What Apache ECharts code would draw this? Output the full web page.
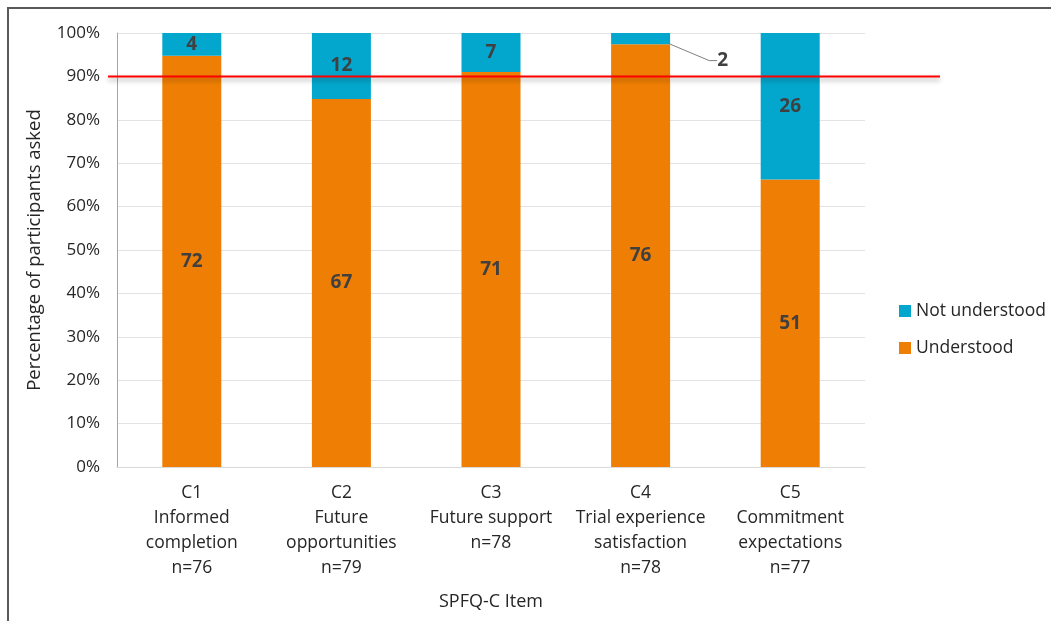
<!DOCTYPE html>
<html>
<head>
<meta charset="utf-8">
<title>SPFQ-C item comprehension</title>
<script src="https://cdn.jsdelivr.net/npm/echarts@6/dist/echarts.min.js"></script>
<style>
  html, body { margin: 0; padding: 0; background: #ffffff; }
  #chart { width: 1051px; height: 621px; }
</style>
</head>
<body>
<div id="chart"></div>
<script>
// Items asked and participant counts per response
const categories = [
  'C1\nInformed\ncompletion\nn=76',
  'C2\nFuture\nopportunities\nn=79',
  'C3\nFuture support\nn=78',
  'C4\nTrial experience\nsatisfaction\nn=78',
  'C5\nCommitment\nexpectations\nn=77'
];
const understood = [72, 67, 71, 76, 51];
const notUnderstood = [4, 12, 7, 2, 26];
const yTickLabels = ['0%', '10%', '20%', '30%', '40%', '50%', '60%', '70%', '80%', '90%', '100%'];
const threshold = 90;

const totals = understood.map((v, i) => v + notUnderstood[i]);
const pct = (arr) => arr.map((v, i) => v / totals[i] * 100);

const FONT = '"Open Sans", Lato, sans-serif';

const labelStyle = {
  show: true,
  position: 'inside',
  color: '#404040',
  fontFamily: FONT,
  fontWeight: 'bold',
  fontSize: 19
};

const chart = echarts.init(document.getElementById('chart'));
chart.setOption({
  animation: false,
  textStyle: { fontFamily: FONT },
  grid: { left: 117, top: 33, right: 186, bottom: 154 },
  legend: {
    orient: 'vertical',
    left: 894,
    top: 297,
    itemWidth: 12,
    itemHeight: 12,
    itemGap: 19,
    icon: 'rect',
    data: ['Not understood', 'Understood'],
    textStyle: { fontSize: 17.5, color: '#262626', fontFamily: FONT }
  },
  xAxis: {
    type: 'category',
    data: categories,
    name: 'SPFQ-C Item',
    nameLocation: 'middle',
    nameGap: 126,
    nameTextStyle: { fontSize: 18, color: '#262626' },
    axisLine: { lineStyle: { color: '#d9d9d9' } },
    axisTick: { show: false },
    axisLabel: {
      interval: 0,
      margin: 14,
      fontSize: 17.5,
      lineHeight: 25,
      color: '#262626'
    }
  },
  yAxis: {
    type: 'value',
    min: 0,
    max: 100,
    interval: 10,
    name: 'Percentage of participants asked',
    nameLocation: 'middle',
    nameGap: 73,
    nameTextStyle: { fontSize: 18.5, color: '#262626' },
    axisLine: { show: true, lineStyle: { color: '#a6a6a6' } },
    axisTick: { show: false },
    splitLine: { lineStyle: { color: '#e3e3e3' } },
    axisLabel: {
      margin: 17,
      fontSize: 17,
      color: '#262626',
      formatter: (v) => yTickLabels[Math.round(v / 10)]
    }
  },
  series: [
    {
      name: 'Understood',
      type: 'bar',
      stack: 'total',
      barWidth: 59,
      itemStyle: { color: '#ef7f04' },
      label: Object.assign({}, labelStyle, {
        formatter: (p) => understood[p.dataIndex]
      }),
      data: pct(understood)
    },
    {
      name: 'Not understood',
      type: 'bar',
      stack: 'total',
      barWidth: 59,
      itemStyle: { color: '#03a7cd' },
      label: Object.assign({}, labelStyle, {
        formatter: (p) => notUnderstood[p.dataIndex]
      }),
      labelLayout: (p) => (p.dataIndex === 3 ? { dx: 82, dy: 22 } : {}),
      labelLine: { show: true, length2: 8, lineStyle: { color: '#7f7f7f', width: 1 } },
      data: pct(notUnderstood)
    }
  ]
});

// Threshold line drawn across the plot at the 90% level
const yLine = chart.convertToPixel({ yAxisIndex: 0 }, threshold);
chart.setOption({
  graphic: [
    {
      type: 'rect',
      shape: { x: 8, y: 8, width: 1200, height: 800 },
      style: { fill: 'none', stroke: '#595959', lineWidth: 2 },
      silent: true
    },
    {
      type: 'line',
      shape: { x1: 108, y1: yLine, x2: 940, y2: yLine },
      style: {
        stroke: '#ff0000',
        lineWidth: 2,
        shadowColor: 'rgba(0,0,0,0.35)',
        shadowBlur: 5,
        shadowOffsetY: 3
      },
      z: 100,
      silent: true
    }
  ]
});
</script>
</body>
</html>
